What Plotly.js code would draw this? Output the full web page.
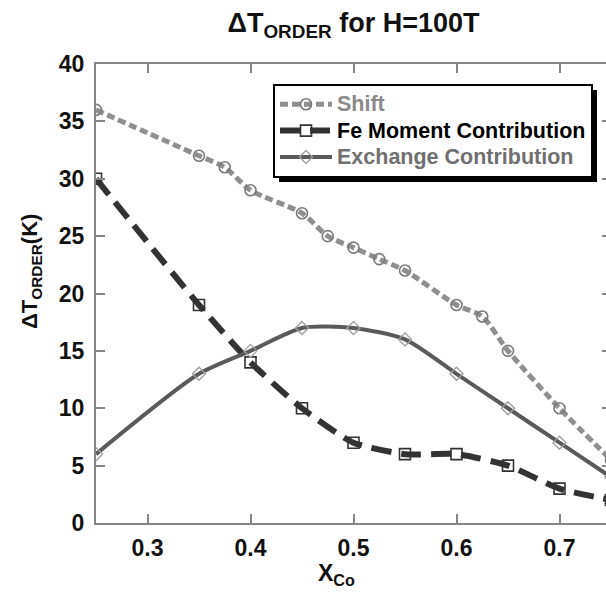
<!DOCTYPE html>
<html>
<head>
<meta charset="utf-8">
<script src="https://cdn.plot.ly/plotly-3.0.1.min.js"></script>
<style>
  html, body { margin: 0; padding: 0; overflow: hidden; background: #fff; }
  #chart { width: 614px; height: 594px; }
</style>
</head>
<body>
<div id="chart"></div>
<script>
// ---- data ----
const xShift = [0.25, 0.35, 0.375, 0.40, 0.45, 0.475, 0.50, 0.525, 0.55, 0.60, 0.625, 0.65, 0.70, 0.75];
const yShift = [36, 32, 31, 29, 27, 25, 24, 23, 22, 19, 18, 15, 10, 5.5];

const xFe = [0.25, 0.35, 0.40, 0.45, 0.50, 0.55, 0.60, 0.65, 0.70, 0.75];
const yFe = [30, 19, 14, 10, 7, 6, 6, 5, 3, 2];

const xExch = [0.25, 0.35, 0.40, 0.45, 0.50, 0.55, 0.60, 0.65, 0.70, 0.75];
const yExch = [6, 13, 15, 17, 17, 16, 13, 10, 7, 4];

const seriesNames = ["Shift", "Fe Moment Contribution", "Exchange Contribution"];
const xTickVals = [0.3, 0.4, 0.5, 0.6, 0.7];
const yTickVals = [0, 5, 10, 15, 20, 25, 30, 35, 40];

const FONT = "Liberation Sans, Arial, Helvetica, sans-serif";

const traces = [
  {
    x: xShift, y: yShift, type: "scatter", mode: "lines+markers",
    name: "<span style='color:#8a8a8a;font-size:21.5px'>" + seriesNames[0] + "</span>",
    line: { color: "#8f8f8f", width: 5, dash: "8px,4px", shape: "spline", smoothing: 0.7 },
    marker: { symbol: "circle-open", size: 11, color: "#7a7a7a", line: { width: 1.6 } }
  },
  {
    x: xFe, y: yFe, type: "scatter", mode: "lines+markers",
    name: "<span style='color:#000;font-size:21.5px'>" + seriesNames[1] + "</span>",
    line: { color: "#333333", width: 6, dash: "20px,10px", shape: "spline", smoothing: 0.6 },
    marker: { symbol: "square-open", size: 11, color: "#333333", line: { width: 1.6 } }
  },
  {
    x: xExch, y: yExch, type: "scatter", mode: "lines+markers",
    name: "<span style='color:#707070;font-size:21.5px'>" + seriesNames[2] + "</span>",
    line: { color: "#5a5a5a", width: 4, shape: "spline", smoothing: 0.7 },
    marker: { symbol: "diamond-open", size: 10, color: "#a0a0a0", line: { width: 1.4 } }
  }
];

const W = 614, H = 594;
const L = 96, R = 3, T = 64, B = 71;
const pw = W - L - R, ph = H - T - B;
const px = v => (v - L) / pw;        // pixel x -> paper
const py = v => (H - B - v) / ph;    // pixel y -> paper

const axisCommon = {
  showline: true, linecolor: "#858585", linewidth: 2, mirror: "ticks",
  ticks: "inside", ticklen: 9, tickwidth: 2, tickcolor: "#858585",
  showgrid: false, zeroline: false,
  tickfont: { family: FONT, size: 23, color: "#111", weight: "bold" }
};

const layout = {
  width: W, height: H,
  margin: { l: L, r: R, t: T, b: B },
  paper_bgcolor: "#fff", plot_bgcolor: "#fff",
  font: { family: FONT, color: "#111" },
  showlegend: true,
  title: {
    text: "ΔT<sub>ORDER</sub> for H=100T",
    font: { family: FONT, size: 27, color: "#111", weight: "bold" },
    xref: "paper", x: 0.5, xanchor: "center",
    yref: "container", y: 1 - 13 / H, yanchor: "top"
  },
  xaxis: Object.assign({}, axisCommon, {
    range: [0.25, 0.75], tickmode: "array", tickvals: xTickVals,
    ticktext: xTickVals.map(v => v.toFixed(1)),
    ticklabelstandoff: 3
  }),
  yaxis: Object.assign({}, axisCommon, {
    range: [0, 40], tickmode: "array", tickvals: yTickVals,
    ticktext: yTickVals.map(String),
    ticklabelstandoff: 5
  }),
  annotations: [
    {
      text: "X<sub>Co</sub>", showarrow: false,
      xref: "paper", yref: "paper", x: px(336), y: py(574),
      xanchor: "center", yanchor: "middle",
      font: { family: FONT, size: 23, color: "#111", weight: "bold" }
    },
    {
      text: "ΔT<sub>ORDER</sub>(K)", showarrow: false, textangle: -90,
      xref: "paper", yref: "paper", x: px(31), y: py(272),
      xanchor: "center", yanchor: "middle",
      font: { family: FONT, size: 22, color: "#111", weight: "bold" }
    }
  ],
  legend: {
    x: px(273), xanchor: "left", y: py(84), yanchor: "top",
    bgcolor: "#fff", bordercolor: "#000", borderwidth: 2,
    font: { family: FONT, size: 18, color: "#111", weight: "bold" },
    itemwidth: 52, tracegroupgap: 0
  },
  shapes: [
    {
      type: "rect", xref: "paper", yref: "paper", layer: "above",
      x0: px(279), x1: px(597), y0: py(182), y1: py(90),
      fillcolor: "#000", line: { width: 0 }
    }
  ]
};

Plotly.newPlot("chart", traces, layout, { displayModeBar: false, staticPlot: true });
</script>
</body>
</html>
